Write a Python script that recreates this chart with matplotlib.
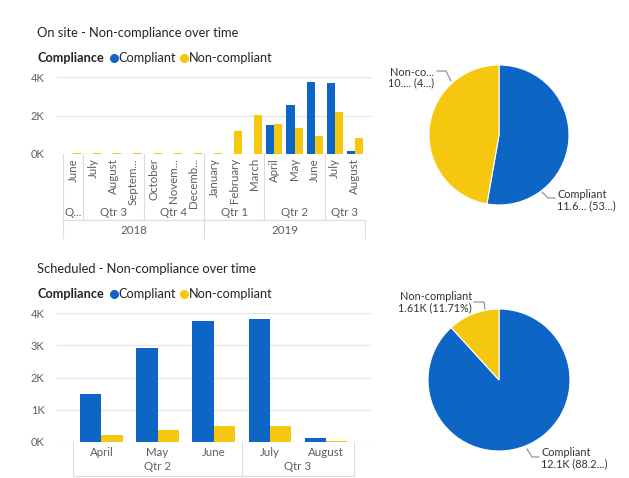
import matplotlib
matplotlib.use("Agg")
import matplotlib.pyplot as plt
import matplotlib.transforms as mtransforms
from matplotlib.lines import Line2D
from itertools import groupby

# --- данные: верхний график (On site) ---
onsite_months = ['June', 'July', 'August', 'Septem...', 'October', 'Novem...', 'Decemb...',
                 'January', 'February', 'March', 'April', 'May', 'June', 'July', 'August']
onsite_quarters = ['Qtr 2', 'Qtr 3', 'Qtr 3', 'Qtr 3', 'Qtr 4', 'Qtr 4', 'Qtr 4',
                   'Qtr 1', 'Qtr 1', 'Qtr 1', 'Qtr 2', 'Qtr 2', 'Qtr 2', 'Qtr 3', 'Qtr 3']
onsite_years = ['2018'] * 7 + ['2019'] * 8
onsite_compliant = [0, 0, 0, 0, 0, 0, 0, 0, 0, 0, 1500, 2550, 3740, 3670, 170]
onsite_noncompliant = [30, 30, 40, 30, 30, 30, 30, 30, 1200, 2050, 1540, 1370, 950, 2200, 850]

# --- данные: нижний график (Scheduled) ---
sched_months = ['April', 'May', 'June', 'July', 'August']
sched_quarters = ['Qtr 2', 'Qtr 2', 'Qtr 2', 'Qtr 3', 'Qtr 3']
sched_compliant = [1480, 2930, 3740, 3800, 130]
sched_noncompliant = [230, 370, 490, 500, 20]

BLUE = '#0d66c6'
YELLOW = '#f5c80f'
GRID = '#e6e6e6'
SEP = '#dcdcdc'
TXT = '#252423'
TICK = '#605e5c'

W, H = 629, 478
plt.rcParams['font.family'] = ['Lato', 'DejaVu Sans']

fig = plt.figure(figsize=(W / 100, H / 100), dpi=100)
fig.patch.set_facecolor('white')
renderer = fig.canvas.get_renderer()


def fx(px):
    return px / W


def fy(py):
    return 1 - py / H


def text_right(t):
    # правый край текста в пикселях
    return t.get_window_extent(renderer).x1


def legend_row(y):
    t = fig.text(fx(37), fy(y), 'Compliance', fontsize=9.2, fontweight='bold', color=TXT, va='center')
    xe = text_right(t)
    fig.add_artist(Line2D([fx(xe + 10)], [fy(y)], marker='o', ms=5.5, color=BLUE, transform=fig.transFigure))
    t = fig.text(fx(xe + 15), fy(y), 'Compliant', fontsize=9.2, color=TXT, va='center')
    xe = text_right(t)
    fig.add_artist(Line2D([fx(xe + 8)], [fy(y)], marker='o', ms=5.5, color=YELLOW, transform=fig.transFigure))
    fig.text(fx(xe + 13), fy(y), 'Non-compliant', fontsize=9.2, color=TXT, va='center')


def bar_axes(left, right, y0, y4, xl, xr):
    ax = fig.add_axes([fx(left), fy(y0), fx(right) - fx(left), fy(y4) - fy(y0)])
    ax.set_xlim(xl, xr)
    ax.set_ylim(0, 4000)
    for s in ax.spines.values():
        s.set_visible(False)
    ax.grid(axis='y', color=GRID, linewidth=1)
    ax.set_axisbelow(True)
    ax.set_xticks([])
    ax.tick_params(axis='y', length=0, labelsize=8, labelcolor=TICK, pad=9)
    return ax


def vline(ax, x, ya, yb):
    tr = mtransforms.blended_transform_factory(ax.transData, fig.transFigure)
    ax.add_line(Line2D([x, x], [fy(ya), fy(yb)], color=SEP, lw=0.8, transform=tr, clip_on=False))


def hline(ax, x0, x1, y):
    tr = mtransforms.blended_transform_factory(ax.transData, fig.transFigure)
    ax.add_line(Line2D([x0, x1], [fy(y), fy(y)], color=SEP, lw=0.8, transform=tr, clip_on=False))


def groups(labels):
    out, i = [], 0
    for key, g in groupby(labels):
        k = len(list(g))
        out.append((key, i, i + k))
        i += k
    return out


# ================= верхний график =================
fig.text(fx(37), fy(33), 'On site - Non-compliance over time', fontsize=9.3, color=TXT, va='center')
legend_row(58)

n1 = len(onsite_months)
ax1 = bar_axes(57, 372, 154, 77, -0.8, n1 - 0.15)
x1 = list(range(n1))
bw = 0.4
ax1.bar([i - bw / 2 for i in x1], onsite_compliant, bw, color=BLUE)
ax1.bar([i + bw / 2 for i in x1], onsite_noncompliant, bw, color=YELLOW)
ax1.set_yticks([0, 2000, 4000], ['0K', '2K', '4K'])

tr1 = mtransforms.blended_transform_factory(ax1.transData, fig.transFigure)
for i, m in enumerate(onsite_months):
    ax1.text(i, fy(158), m, rotation=90, ha='center', va='top', fontsize=8.3, color=TICK, transform=tr1)

# кварталы (группы по году+кварталу)
qkeys = [y + q for y, q in zip(onsite_years, onsite_quarters)]
for key, a, b in groups(qkeys):
    lab = key[4:] if b - a > 1 else key[4] + '...'
    ax1.text((a + b - 1) / 2, fy(213), lab, ha='center', va='center', fontsize=8.3, color=TICK, transform=tr1)
    if a > 0:
        vline(ax1, a - 0.5, 154, 220)
for key, a, b in groups(onsite_years):
    ax1.text((a + b - 1) / 2, fy(230), key, ha='center', va='center', fontsize=8.3, color=TICK, transform=tr1)
    if a > 0:
        vline(ax1, a - 0.5, 154, 238)
vline(ax1, -0.5, 154, 238)
vline(ax1, n1 - 0.5, 220, 238)
hline(ax1, -0.5, n1 - 0.5, 220)

# ================= нижний график =================
fig.text(fx(37), fy(269), 'Scheduled - Non-compliance over time', fontsize=9.3, color=TXT, va='center')
legend_row(294)

n2 = len(sched_months)
ax2 = bar_axes(57, 371, 442, 313, -0.79, n2 - 0.2)
x2 = list(range(n2))
bw2 = 0.38
ax2.bar([i - bw2 / 2 for i in x2], sched_compliant, bw2, color=BLUE)
ax2.bar([i + bw2 / 2 for i in x2], sched_noncompliant, bw2, color=YELLOW)
ax2.set_yticks([0, 1000, 2000, 3000, 4000], ['0K', '1K', '2K', '3K', '4K'])

tr2 = mtransforms.blended_transform_factory(ax2.transData, fig.transFigure)
for i, m in enumerate(sched_months):
    ax2.text(i, fy(452), m, ha='center', va='center', fontsize=8.3, color=TICK, transform=tr2)
for key, a, b in groups(sched_quarters):
    ax2.text((a + b - 1) / 2, fy(467), key, ha='center', va='center', fontsize=8.3, color=TICK, transform=tr2)
    if a > 0:
        vline(ax2, a - 0.5, 442, 476)
vline(ax2, -0.5, 442, 476)
vline(ax2, n2 - 0.5, 442, 476)
hline(ax2, -0.5, n2 - 0.5, 476)


# ================= круговые диаграммы =================
def pie_axes(cx, cy, r, values):
    ax = fig.add_axes([fx(cx - r), fy(cy + r), 2 * r / W, 2 * r / H])
    ax.pie(values, colors=[BLUE, YELLOW], startangle=90, counterclock=False, radius=1,
           wedgeprops=dict(edgecolor='white', linewidth=0.8))
    ax.set_xlim(-1, 1)
    ax.set_ylim(-1, 1)
    ax.axis('off')
    return ax


def leader(pts):
    xs = [fx(p[0]) for p in pts]
    ys = [fy(p[1]) for p in pts]
    fig.add_artist(Line2D(xs, ys, color='#8a8a8a', lw=0.8, transform=fig.transFigure))


pie_axes(499, 135, 70, [sum(onsite_compliant), sum(onsite_noncompliant)])
pie_axes(499, 380, 71, [sum(sched_compliant), sum(sched_noncompliant)])

pfs = 7.8
pc = '#333333'
fig.text(fx(434), fy(72), 'Non-co...', ha='right', va='center', fontsize=pfs, color=pc)
fig.text(fx(434), fy(83), '10.... (4...)', ha='right', va='center', fontsize=pfs, color=pc)
leader([(437, 71), (446, 71), (451, 81)])
fig.text(fx(557), fy(195), 'Compliant', ha='left', va='center', fontsize=pfs, color=pc)
fig.text(fx(557), fy(206), '11.6... (53...)', ha='left', va='center', fontsize=pfs, color=pc)
leader([(542, 192), (548, 198), (555, 198)])

fig.text(fx(472), fy(296), 'Non-compliant', ha='right', va='center', fontsize=pfs, color=pc)
fig.text(fx(472), fy(308), '1.61K (11.71%)', ha='right', va='center', fontsize=pfs, color=pc)
leader([(474, 302), (484, 302), (485, 309)])
fig.text(fx(541), fy(452), 'Compliant', ha='left', va='center', fontsize=pfs, color=pc)
fig.text(fx(541), fy(464), '12.1K (88.2...)', ha='left', va='center', fontsize=pfs, color=pc)
leader([(527, 449), (532, 457), (539, 457)])

fig.savefig('out.png', dpi=100, facecolor='white')
